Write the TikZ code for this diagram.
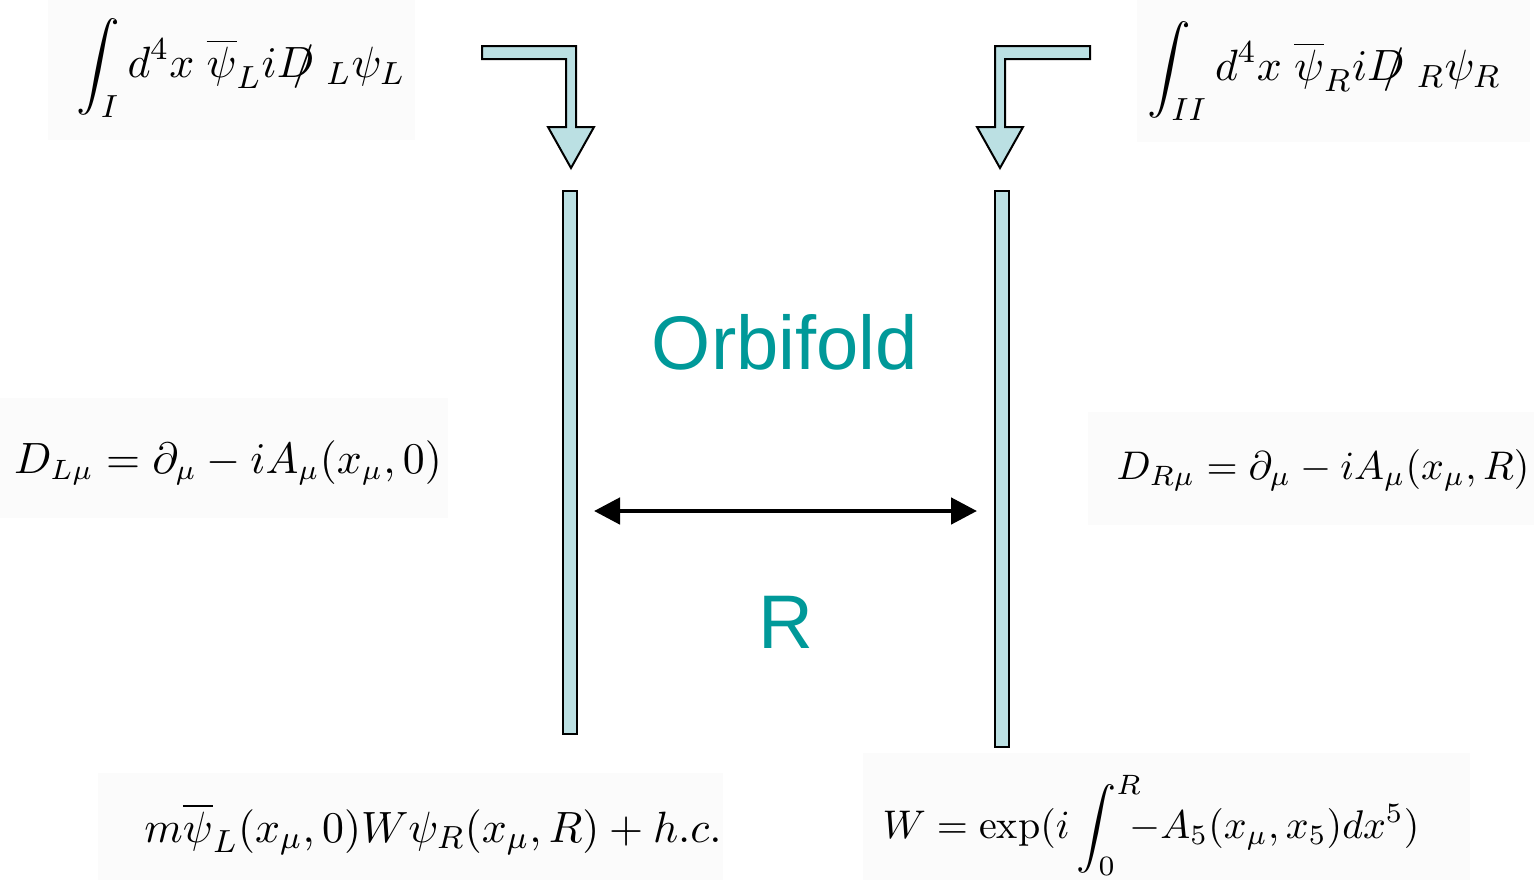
\documentclass[tikz,border=0pt]{standalone}
\usepackage{amsmath,amssymb}
\usepackage{fontspec}
\newfontfamily\arialfont{Liberation Sans}
\definecolor{braneBlue}{RGB}{187,224,227}
\definecolor{orbiTeal}{RGB}{0,153,153}
\usetikzlibrary{arrows.meta}

\begin{document}
\begin{tikzpicture}[
    x=0.25pt, y=-0.25pt,
    patch/.style={fill=black!1.5},
    formula/.style={inner sep=0pt, font=\fontsize{10.9}{13}\selectfont},
    brane/.style={rectangle, draw, line width=0.5pt, fill=braneBlue,
                  minimum width=3.5pt, inner sep=0pt},
    bigtext/.style={text=orbiTeal, inner sep=0pt,
                    font=\arialfont\fontsize{19}{22}\selectfont},
    bent/.style={draw, line width=0.5pt, fill=braneBlue, line join=miter},
    arrow/.style={{Triangle[length=6.5pt,width=6.5pt]}-{Triangle[length=6.5pt,width=6.5pt]},
                  line width=1.2pt},
  ]
    \useasboundingbox (0,0) rectangle (1534,880);

    % faint patches behind the formulas
    \fill[patch] (48,0) rectangle (415,140);
    \fill[patch] (1137,0) rectangle (1530,142);
    \fill[patch] (0,398) rectangle (448,518);
    \fill[patch] (1088,412) rectangle (1534,525);
    \fill[patch] (98,773) rectangle (723,880);
    \fill[patch] (863,753) rectangle (1470,880);

    % branes
    \node[brane, minimum height=135.75pt] (BRANE1) at (570,462.5) {};
    \node[brane, minimum height=139pt] (BRANE2) at (1002,469) {};

    % bent arrows
    \draw[bent] (482,46) -- (576,46) -- (576,127) -- (594,127) -- (571,168)
        -- (548,127) -- (566,127) -- (566,59) -- (482,59) -- cycle;
    \draw[bent] (1090,46) -- (995,46) -- (995,127) -- (977,127) -- (1000,168)
        -- (1023,127) -- (1005,127) -- (1005,59) -- (1090,59) -- cycle;

    % formulas
    \node[formula] (INT1) at (241,68)
        {$\displaystyle\int_I d^4x\;\overline{\psi}_L iD\!\!\!/\;{}_L\psi_L$};
    \node[formula] (INT2) at (1324,71)
        {$\displaystyle\int_{II} d^4x\;\overline{\psi}_R iD\!\!\!/\;{}_R\psi_R$};
    \node[formula, font=\fontsize{10.6}{13}\selectfont] (COVL) at (228,463)
        {$D_{L\mu}=\partial_\mu-iA_\mu(x_\mu,0)$};
    \node[formula, font=\fontsize{10.1}{12}\selectfont] (COVR) at (1323,470)
        {$D_{R\mu}=\partial_\mu-iA_\mu(x_\mu,R)$};
    \node[formula] (MASS) at (433,829)
        {$m\overline{\psi}_L(x_\mu,0)W\psi_R(x_\mu,R)+h.c.$};
    \node[formula, font=\fontsize{10}{12}\selectfont] (WILSON) at (1151,825)
        {$\displaystyle W=\exp(i\int_0^R\!\!\!-A_5(x_\mu,x_5)dx^5)$};

    % labels
    \node[bigtext] (ORB) at (785,342) {Orbifold};
    \node[bigtext] (RAD) at (786,622) {R};

    % separation
    \coordinate (SEP1) at (594,511);
    \coordinate (SEP2) at (977,511);
    \draw[arrow] (SEP1) -- (SEP2);
  \end{tikzpicture}
\end{document}
